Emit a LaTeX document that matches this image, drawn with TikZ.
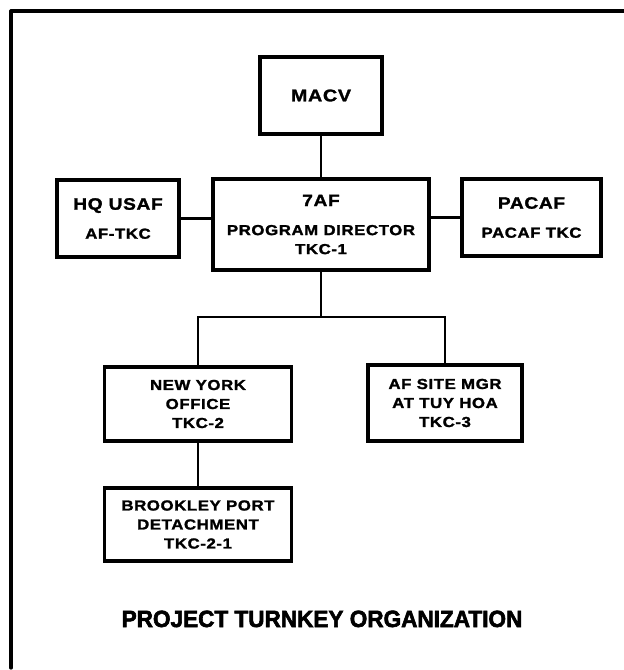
\documentclass[tikz,border=0pt]{standalone}
\usepackage{fontspec}
\newfontfamily\chartfont[FakeStretch=1.16,LetterSpace=4,FakeBold=1.6]{Liberation Sans}
\newfontfamily\titlefont[FakeStretch=0.96,FakeBold=2.5]{Liberation Sans}
\begin{document}
\begin{tikzpicture}[x=1pt,y=-1pt,
  box/.style={draw, line width=3.2pt, rectangle, align=center, inner sep=0pt,
    font=\chartfont\bfseries\fontsize{14.5}{19}\selectfont},
  conn/.style={line width=2.8pt},
  frame/.style={line width=3.2pt, line cap=round, line join=round}
]
\useasboundingbox (0,0) rectangle (624,670);
% frame
\coordinate (fTL) at (11,11);
\coordinate (fTR) at (626,11);
\coordinate (fBL) at (11,668);
\draw[frame] (fBL) -- (fTL) -- (fTR);

% boxes
\node[box, minimum width=122pt, minimum height=77pt] (macv) at (321,95.5)
  {{\fontsize{17}{20}\selectfont MACV}};
\node[box, minimum width=216pt, minimum height=91pt] (af7) at (321,224.5)
  {{\fontsize{16.5}{19}\selectfont 7AF}\\[10pt]PROGRAM DIRECTOR\\TKC-1};
\node[box, minimum width=122pt, minimum height=77pt] (hq) at (118,218.5)
  {{\fontsize{16.5}{19}\selectfont HQ USAF}\\[10pt]AF-TKC};
\node[box, minimum width=139pt, minimum height=77pt] (pacaf) at (531.5,217.5)
  {{\fontsize{16.5}{19}\selectfont PACAF}\\[10pt]PACAF TKC};
\node[box, minimum width=187pt, minimum height=74pt] (ny) at (198,404)
  {NEW YORK\\OFFICE\\TKC-2};
\node[box, minimum width=154pt, minimum height=76pt] (site) at (445,403)
  {AF SITE MGR\\AT TUY HOA\\TKC-3};
\node[box, minimum width=187pt, minimum height=73pt] (brook) at (198,524.5)
  {BROOKLEY PORT\\DETACHMENT\\TKC-2-1};

% connectors
\coordinate (br) at (321,317);
\draw[conn] (macv.south) -- (af7.north);
\draw[conn] (hq.east) -- (hq.east -| af7.west);
\draw[conn] (af7.east |- pacaf.west) -- (pacaf.west);
\draw[conn] (af7.south) -- (br);
\draw[conn] (ny.north) |- (br) -| (site.north);
\draw[conn] (ny.south) -- (brook.north);

% title
\node[font=\titlefont\bfseries\fontsize{23.5}{28}\selectfont, anchor=base] (title) at (322,627)
  {PROJECT TURNKEY ORGANIZATION};
\end{tikzpicture}
\end{document}
